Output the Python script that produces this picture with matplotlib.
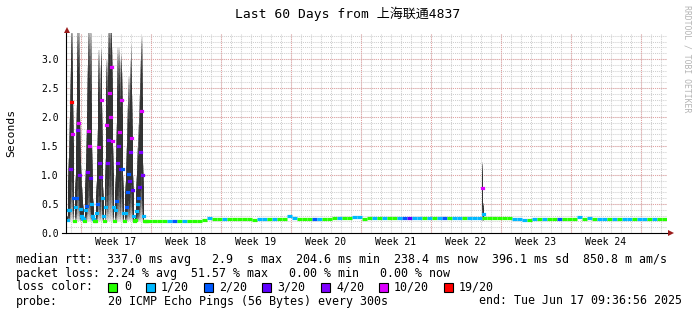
import numpy as np
import matplotlib
matplotlib.use("Agg")
import matplotlib.pyplot as plt
from matplotlib.lines import Line2D
from matplotlib.patches import Rectangle

# ---------------- data ----------------
title = "Last 60 Days from 上海联通4837"
week_labels = ["Week 17", "Week 18", "Week 19", "Week 20", "Week 21", "Week 22", "Week 23", "Week 24"]
week_centers = [4.9, 11.9, 18.9, 25.9, 32.9, 39.9, 46.9, 53.9]      # days from left edge
week_bounds = [1.4, 8.4, 15.4, 22.4, 29.4, 36.4, 43.4, 50.4, 57.4]
y_ticks = [0.0, 0.5, 1.0, 1.5, 2.0, 2.5, 3.0]

# burst period, one sample per 0.1 day (days 0.0 .. 7.9)
burst_median = [0.22, 0.40, 0.40, 1.11, 2.26, 1.71, 0.60, 0.20, 0.45, 0.60,
                1.78, 1.90, 1.00, 0.41, 0.30, 0.26, 0.24, 0.20, 0.40, 0.46,
                1.05, 1.76, 1.50, 0.95, 0.50, 0.30, 0.25, 0.20, 0.20, 0.35,
                0.50, 1.48, 1.20, 0.97, 2.30, 0.60, 0.30, 0.20, 0.45, 1.87,
                1.20, 1.60, 2.41, 2.00, 2.87, 1.59, 0.45, 0.20, 0.40, 0.55,
                1.20, 1.50, 1.74, 1.10, 2.29, 1.10, 0.35, 0.20, 0.35, 0.45,
                0.70, 1.02, 0.90, 1.40, 1.63, 0.75, 0.30, 0.20, 0.22, 0.38,
                0.50, 0.60, 0.80, 1.40, 2.11, 1.00, 0.30, 0.21, 0.21, 0.21]
burst_max = [0.30, 1.30, 2.00, 2.84, 3.60, 3.60, 2.30, 0.22, 1.00, 2.20,
             3.60, 3.60, 3.60, 2.00, 1.20, 0.80, 0.50, 0.22, 1.10, 1.80,
             2.90, 3.60, 3.60, 3.60, 3.60, 1.50, 0.60, 0.22, 0.22, 0.90,
             1.80, 3.16, 3.16, 2.90, 3.20, 2.20, 0.80, 0.22, 1.30, 3.00,
             3.00, 3.60, 3.60, 3.60, 3.60, 3.20, 1.50, 0.22, 1.00, 1.90,
             3.20, 3.20, 3.20, 3.00, 3.10, 2.80, 1.00, 0.22, 0.90, 1.50,
             2.20, 2.70, 2.70, 3.00, 3.28, 2.40, 1.00, 0.22, 0.30, 1.00,
             1.50, 1.90, 2.40, 3.00, 3.38, 3.38, 1.20, 0.22, 0.22, 0.22]
burst_loss = [1, 1, 1, 4, 19, 10, 2, 0, 1, 2,
              4, 10, 4, 1, 1, 1, 1, 0, 1, 2,
              4, 10, 10, 3, 1, 1, 1, 0, 0, 1,
              2, 10, 4, 4, 10, 1, 1, 0, 1, 10,
              4, 4, 10, 10, 10, 10, 1, 0, 1, 2,
              4, 4, 10, 3, 10, 2, 1, 0, 1, 2,
              2, 2, 3, 4, 10, 3, 1, 0, 0, 1,
              1, 2, 3, 4, 10, 4, 1, 0, 0, 0]
smoke_min = 0.20

# calm period, one sample per 0.5 day (days 8.0 .. 59.5)
calm_median = [0.207, 0.207, 0.207, 0.207, 0.207, 0.207, 0.205, 0.205, 0.205, 0.205,
               0.207, 0.220, 0.265, 0.250, 0.247, 0.247, 0.247, 0.247, 0.240, 0.250,
               0.250, 0.230, 0.245, 0.247, 0.247, 0.247, 0.247, 0.250, 0.290, 0.255,
               0.247, 0.247, 0.247, 0.245, 0.240, 0.240, 0.245, 0.260, 0.260, 0.260,
               0.260, 0.270, 0.270, 0.245, 0.255, 0.260, 0.260, 0.260, 0.260, 0.260,
               0.260, 0.260, 0.260, 0.260, 0.260, 0.260, 0.260, 0.253, 0.253, 0.253,
               0.253, 0.253, 0.253, 0.253, 0.253, 0.253, 0.253, 0.253, 0.253, 0.253,
               0.253, 0.253, 0.253, 0.245, 0.235, 0.225, 0.230, 0.240, 0.240, 0.240,
               0.240, 0.240, 0.240, 0.240, 0.240, 0.245, 0.270, 0.245, 0.260, 0.247,
               0.247, 0.247, 0.247, 0.247, 0.247, 0.247, 0.247, 0.247, 0.247, 0.247,
               0.247, 0.247, 0.247, 0.247]
calm_loss = [0, 0, 0, 0, 1, 2, 0, 1, 0, 0,
             0, 0, 1, 0, 0, 1, 0, 0, 0, 0,
             0, 0, 1, 1, 0, 1, 0, 0, 1, 1,
             0, 0, 0, 2, 1, 0, 0, 0, 1, 0,
             0, 1, 1, 0, 0, 1, 0, 1, 0, 0,
             1, 2, 3, 1, 1, 0, 1, 0, 1, 2,
             0, 1, 1, 0, 1, 1, 1, 0, 0, 0,
             0, 0, 0, 1, 1, 1, 0, 1, 0, 1,
             0, 0, 2, 0, 0, 0, 1, 0, 1, 0,
             1, 1, 0, 1, 0, 1, 1, 0, 1, 1,
             0, 1, 0, 0]

# short spike in week 22
spike_day = [41.5, 41.6]
spike_median = [0.77, 0.33]
spike_max = [1.22, 0.52]
spike_loss = [10, 1]

loss_steps = [0, 1, 2, 3, 4, 10, 19]
loss_names = ["0", "1/20", "2/20", "3/20", "4/20", "10/20", "19/20"]
loss_colors = ["#26ff00", "#00b8ff", "#0059ff", "#5e00ff", "#7e00ff", "#dd00ff", "#ff0000"]

stats_line1 = "median rtt:  337.0 ms avg   2.9  s max  204.6 ms min  238.4 ms now  396.1 ms sd  850.8 m am/s"
stats_line2 = "packet loss: 2.24 % avg  51.57 % max   0.00 % min   0.00 % now"
probe_text = "20 ICMP Echo Pings (56 Bytes) every 300s"
end_text = "end: Tue Jun 17 09:36:56 2025"

# ---------------- drawing ----------------
W, H = 697, 315
def fx(px): return px / W
def fy(py): return 1 - py / H

MONO = ["DejaVu Sans Mono", "Noto Sans CJK SC"]
plt.rcParams["font.family"] = MONO

fig = plt.figure(figsize=(W / 100, H / 100), dpi=100, facecolor="white")
ax = fig.add_axes([fx(67), fy(233), 600 / W, 200 / H])
ax.set_facecolor("white")
ax.set_xlim(0, 60)
ax.set_ylim(0, 200 / 58)
for s in ax.spines.values():
    s.set_visible(False)

# grid
dot = (0, (1, 1))
for d in np.arange(0.4, 60, 1.0):
    ax.axvline(d, color="#cfcfcf", lw=0.75, ls=dot, zorder=0)
for v in np.arange(0.1, 3.45, 0.1):
    ax.axhline(v, color="#cfcfcf", lw=0.75, ls=dot, zorder=0)
for d in week_bounds:
    ax.axvline(d, color="#e3a3a3", lw=0.75, ls=dot, zorder=1)
for v in y_ticks[1:]:
    ax.axhline(v, color="#e3a3a3", lw=0.75, ls=dot, zorder=1)


def color_of(loss):
    c = loss_colors[0]
    for st, col in zip(loss_steps, loss_colors):
        if loss >= st:
            c = col
    return c


def draw_smoke(t, med, hi, lo, width):
    t = np.round(np.asarray(t, float), 3)
    med = np.asarray(med, float)
    hi = np.asarray(hi, float)
    xe = np.append(t, t[-1] + width)
    nb = 10
    for j in range(nb):
        r = ((nb - j) / nb) ** 0.25
        lower = med - (med - lo) * r
        upper = med + (hi - med) * r
        g = int(round(221 - j * 171 / (nb - 1)))
        ax.fill_between(xe, np.append(lower, lower[-1]), np.append(upper, upper[-1]),
                        step="post", color=f"#{g:02x}{g:02x}{g:02x}", linewidth=0,
                        zorder=2)


burst_day = np.arange(len(burst_median)) * 0.1
calm_day = 8.0 + np.arange(len(calm_median)) * 0.5

draw_smoke(burst_day, burst_median, burst_max, smoke_min, 0.1)
draw_smoke(spike_day, spike_median, spike_max, smoke_min, 0.1)

ax.hlines(calm_median, calm_day, calm_day + 0.5,
          colors=[color_of(l) for l in calm_loss], linewidth=2.3, zorder=4)
bl = ax.hlines(burst_median, burst_day, burst_day + 0.1,
               colors=[color_of(l) for l in burst_loss], linewidth=2.3, zorder=4)
bl.set_capstyle("projecting")
sl = ax.hlines(spike_median, spike_day, np.asarray(spike_day) + 0.1,
               colors=[color_of(l) for l in spike_loss], linewidth=2.3, zorder=4)
sl.set_capstyle("projecting")

# ticks
ax.set_yticks(y_ticks)
ax.set_yticklabels([f"{v:.1f}" for v in y_ticks])
ax.set_xticks(week_centers)
ax.set_xticklabels(week_labels)
ax.tick_params(axis="y", length=0, pad=5.8, labelsize=7)
ax.tick_params(axis="x", length=0, pad=3.0, labelsize=7)

# axes lines and arrows
fig.add_artist(Line2D([fx(66), fx(66)], [fy(233), fy(31)], color="black", lw=0.8))
fig.add_artist(Line2D([fx(62), fx(669)], [fy(233), fy(233)], color="black", lw=0.8))
fig.add_artist(Line2D([fx(66.5)], [fy(29.5)], marker="^", markersize=4.5, color="#9b1c1c",
                      markeredgewidth=0))
fig.add_artist(Line2D([fx(671)], [fy(233)], marker=">", markersize=4.5, color="#9b1c1c",
                      markeredgewidth=0))

# titles
fig.text(fx(348), fy(14), title, ha="center", va="center", fontsize=9.4, family=MONO)
fig.text(fx(11), fy(133), "Seconds", rotation=90, ha="center", va="center", fontsize=8.2)
fig.text(fx(687), fy(5), "RRDTOOL / TOBI OETIKER", rotation=270, ha="center", va="top",
         fontsize=5.9, color="#b4b4b4")

# legend
LEG = 8.4
fig.text(fx(16), fy(259), stats_line1, ha="left", va="center", fontsize=LEG)
fig.text(fx(16), fy(273), stats_line2, ha="left", va="center", fontsize=LEG)
fig.text(fx(16), fy(287), "loss color:", ha="left", va="center", fontsize=LEG)
box_x = [108, 146, 204, 262, 321, 379, 444]
text_x = [124, 161, 219, 277, 336, 394, 459]
for bx, tx, name, col in zip(box_x, text_x, loss_names, loss_colors):
    fig.add_artist(Rectangle((fx(bx), fy(291.5)), 9 / W, 9 / H, facecolor=col,
                             edgecolor="black", linewidth=0.8))
    fig.text(fx(tx), fy(287), name, ha="left", va="center", fontsize=LEG)
fig.text(fx(16), fy(301), "probe:", ha="left", va="center", fontsize=LEG)
fig.text(fx(108), fy(301), probe_text, ha="left", va="center", fontsize=LEG)
fig.text(fx(682), fy(301), end_text, ha="right", va="center", fontsize=LEG)

fig.savefig("out.png", dpi=100, facecolor="white")
